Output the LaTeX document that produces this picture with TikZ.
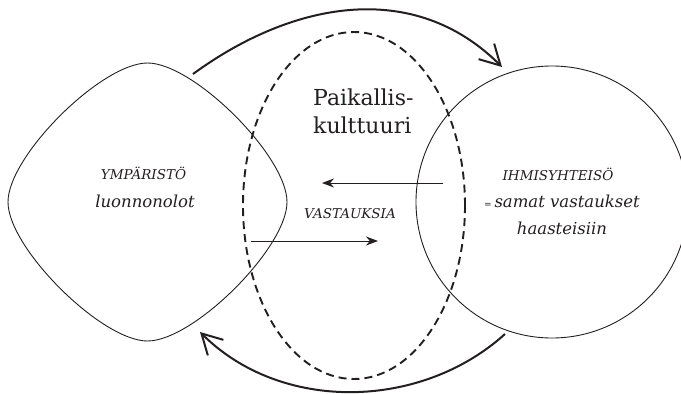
\documentclass[tikz,border=0pt]{standalone}
\usepackage{fontspec}
\setmainfont{DejaVu Serif}
\usetikzlibrary{arrows.meta,shapes.geometric}
\definecolor{ink}{RGB}{35,31,32}
\tikzset{
  shapeline/.style={draw=ink, line width=0.9pt},
  bigarc/.style={draw=ink, line width=2pt, -{Straight Barb[length=20pt,width=22pt,line width=2pt]}},
  smallarrow/.style={draw=ink, line width=0.9pt, -{Stealth[length=12pt,width=9pt]}},
  capslabel/.style={text=ink, font=\itshape\fontsize{13.5}{14}\selectfont, anchor=base, inner sep=0pt},
  itlabel/.style={text=ink, font=\itshape\fontsize{16.5}{18}\selectfont, anchor=base, inner sep=0pt},
  titlelabel/.style={text=ink, font=\fontsize{22}{28}\selectfont, anchor=base west, inner sep=0pt},
}
\begin{document}
\begin{tikzpicture}[x=1pt,y=-1pt]
\useasboundingbox (0,0) rectangle (681,394);
% left rounded diamond
\draw[shapeline] (147.5,63) .. controls (193.5,63) and (287,156) .. (287,202)
  .. controls (287,248) and (193.5,341) .. (147.5,341)
  .. controls (101.5,341) and (8,248) .. (8,202)
  .. controls (8,156) and (101.5,63) .. cycle;
\coordinate (env) at (147.5,202);
% right circle
\node[shapeline, circle, minimum size=272pt, inner sep=0pt, outer sep=0pt] (ihm) at (552,202) {};
% dashed ellipse
\node[draw=ink, line width=1.9pt, dash pattern=on 8pt off 5pt, ellipse, minimum width=222pt, minimum height=347pt, inner sep=0pt] (kult) at (354,205.5) {};
% texts
\node[titlelabel] (t1) at (313,105) {Paikallis-};
\node[titlelabel] (t2) at (313,133) {kulttuuri};
\node[capslabel] (y1) at (143.5,179) {YMPÄRISTÖ};
\node[itlabel] (y2) at (145,207) {luonnonolot};
\node[capslabel] (v1) at (350,218) {VASTAUKSIA};
\node[capslabel] (h1) at (558,180) {IHMISYHTEISÖ};
\node[itlabel] (h2) at (562,207) {{\upshape\fontsize{9}{9}\selectfont =}\,samat vastaukset};
\node[itlabel] (h3) at (562,234) {haasteisiin};
% connector coordinates
\coordinate (a1s) at (193,74);
\coordinate (a1e) at (502,67);
\coordinate (a2s) at (505,334);
\coordinate (a2e) at (200,332);
\coordinate (b1s) at (443,183);
\coordinate (b1e) at (322,183);
\coordinate (b2s) at (251,241);
\coordinate (b2e) at (378,241);
% big arcs
\draw[bigarc] (a1s) .. controls (293,1) and (414,-21) .. (a1e);
\draw[bigarc] (a2s) .. controls (421,410) and (281,413) .. (a2e);
% small arrows
\draw[smallarrow] (b1s) -- (b1e);
\draw[smallarrow] (b2s) -- (b2e);
\end{tikzpicture}
\end{document}
